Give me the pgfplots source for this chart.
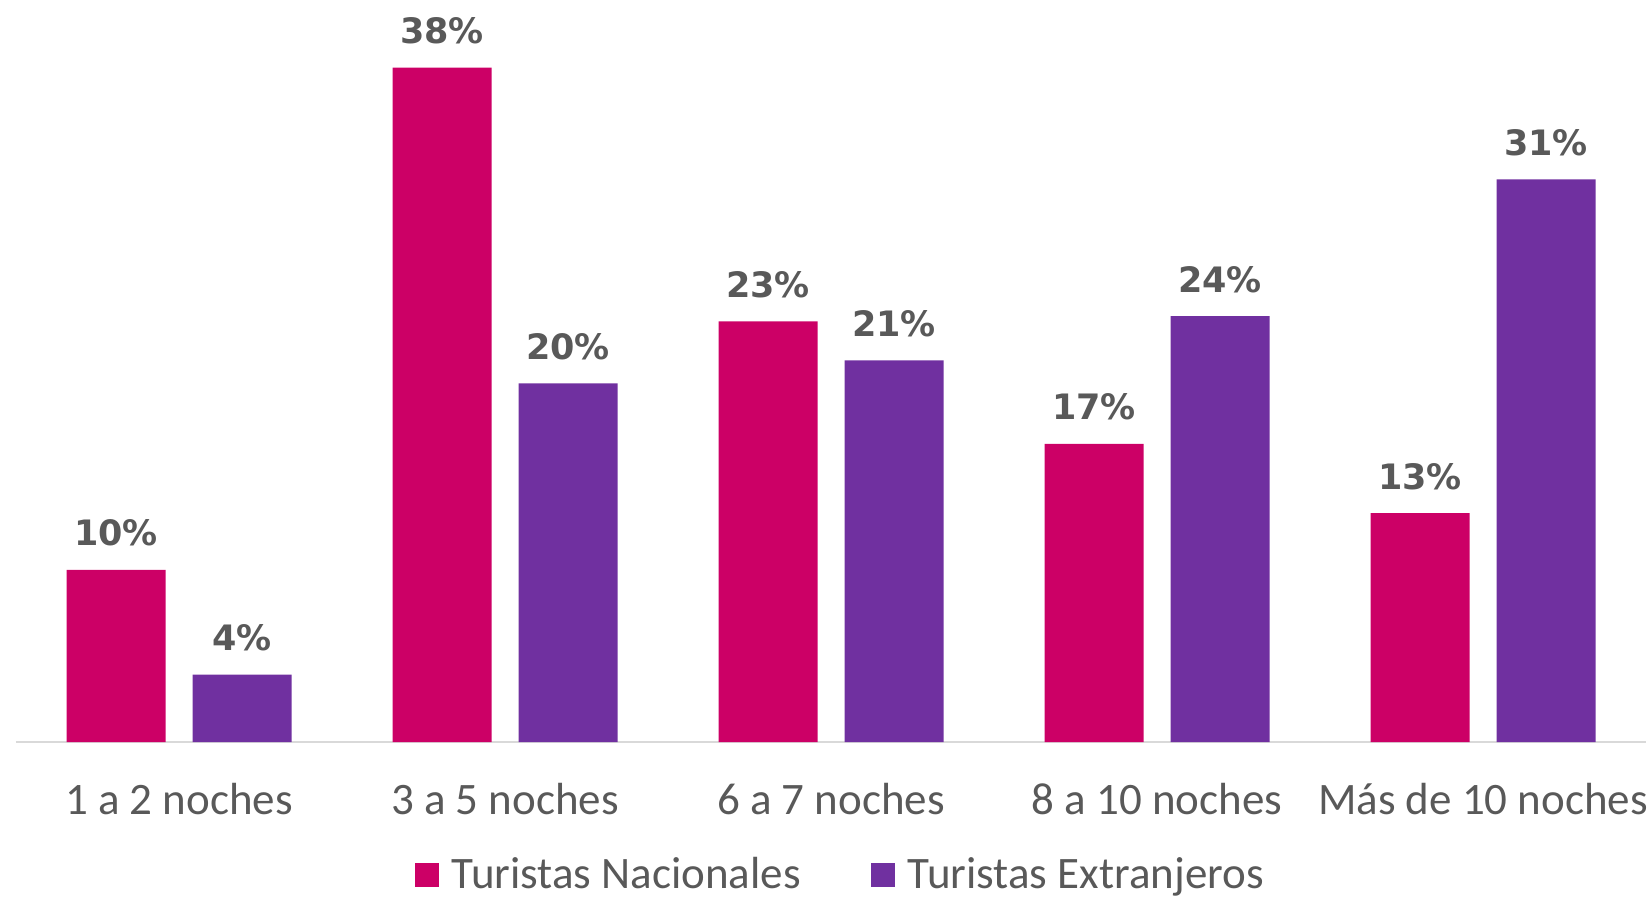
\documentclass[border=0pt]{standalone}
\usepackage{fontspec}
\setmainfont{Carlito}
\newfontfamily\lblfont{DejaVu Sans}
\usepackage{pgfplots}
\pgfplotsset{compat=1.18}
\definecolor{nac}{HTML}{CC0066}
\definecolor{ext}{HTML}{7030A0}
\definecolor{txt}{HTML}{595959}
\definecolor{axisgray}{HTML}{D9D9D9}

\begin{document}
\begin{tikzpicture}
\useasboundingbox (0,0) rectangle (494.4pt,268.8pt);
\begin{axis}[
  at={(4.8pt,46.2pt)}, anchor=south west,
  scale only axis,
  width=489pt, height=213pt,
  ybar, bar width=29.7pt,
  xmin=-0.5, xmax=4.5, ymin=0, ymax=40,
  axis y line=none,
  axis x line*=bottom,
  x axis line style={axisgray, line width=0.6pt, -},
  xtick=data,
  xticklabels={1 a 2 noches, 3 a 5 noches, 6 a 7 noches, 8 a 10 noches, Más de 10 noches},
  xtick style={draw=none},
  xticklabel style={font=\fontsize{13.5}{15}\selectfont, text=txt, yshift=-4.5pt},
  point meta=explicit,
  nodes near coords={\pgfmathprintnumber{\pgfplotspointmeta}\%},
  every node near coord/.append style={font=\lblfont\bfseries\fontsize{10.5}{12}\selectfont, text=txt, yshift=3.5pt},
  /pgf/number format/assume math mode=true,
  legend style={at={(0.5,-0.188)}, xshift=3.5pt, anchor=center, draw=none, legend columns=2,
    font=\fontsize{13.5}{15}\selectfont, text=txt,
    /tikz/every odd column/.append style={column sep=1.9pt},
    /tikz/every even column/.append style={column sep=19pt}},
  legend image code/.code={\fill[#1] (0pt,-3.6pt) rectangle (7.2pt,3.6pt);},
]
% bar heights as drawn, labels as printed
\addplot[fill=nac, draw=none, bar shift=-18.9pt] coordinates {
  (0,9.7)[10] (1,38)[38] (2,23.7)[23] (3,16.8)[17] (4,12.9)[13]};
\addlegendentry{Turistas Nacionales}
\addplot[fill=ext, draw=none, bar shift=18.9pt] coordinates {
  (0,3.8)[4] (1,20.2)[20] (2,21.5)[21] (3,24.0)[24] (4,31.7)[31]};
\addlegendentry{Turistas Extranjeros}
\end{axis}
\end{tikzpicture}
\end{document}
